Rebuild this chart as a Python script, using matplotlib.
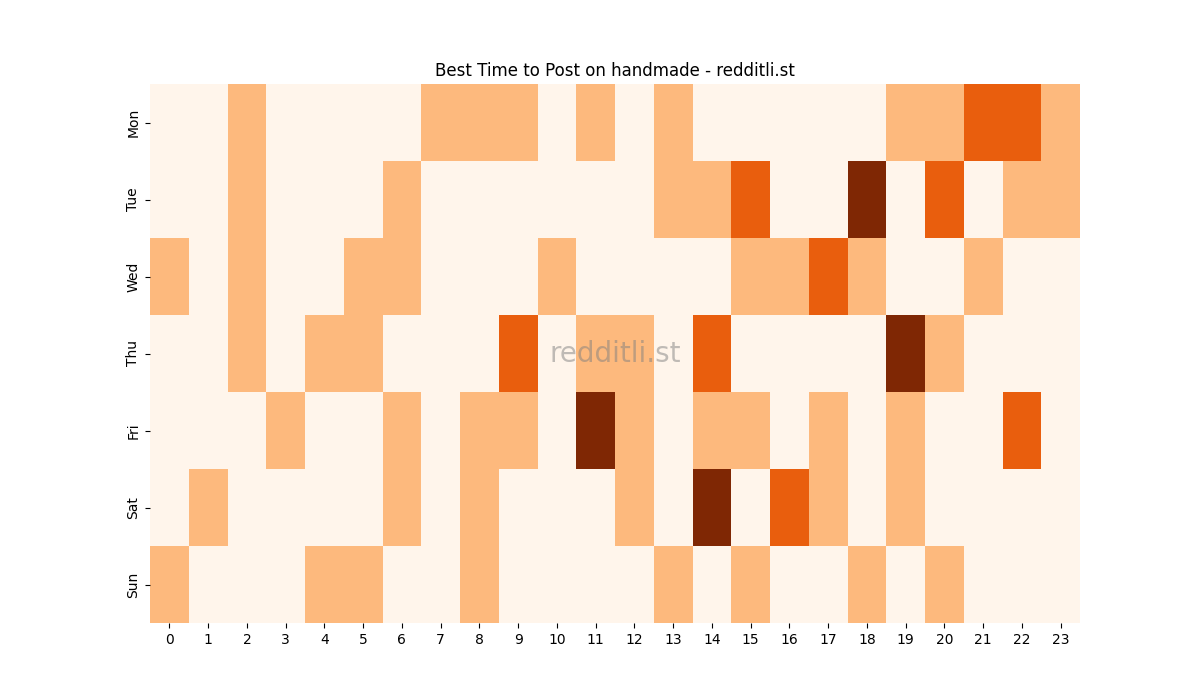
import numpy as np
import matplotlib
matplotlib.use('Agg')
import matplotlib.pyplot as plt

days = ['Mon', 'Tue', 'Wed', 'Thu', 'Fri', 'Sat', 'Sun']
hours = list(range(24))

# activity level per hour (0-3)
mon = [0, 0, 1, 0, 0, 0, 0, 1, 1, 1, 0, 1, 0, 1, 0, 0, 0, 0, 0, 1, 1, 2, 2, 1]
tue = [0, 0, 1, 0, 0, 0, 1, 0, 0, 0, 0, 0, 0, 1, 1, 2, 0, 0, 3, 0, 2, 0, 1, 1]
wed = [1, 0, 1, 0, 0, 1, 1, 0, 0, 0, 1, 0, 0, 0, 0, 1, 1, 2, 1, 0, 0, 1, 0, 0]
thu = [0, 0, 1, 0, 1, 1, 0, 0, 0, 2, 0, 1, 1, 0, 2, 0, 0, 0, 0, 3, 1, 0, 0, 0]
fri = [0, 0, 0, 1, 0, 0, 1, 0, 1, 1, 0, 3, 1, 0, 1, 1, 0, 1, 0, 1, 0, 0, 2, 0]
sat = [0, 1, 0, 0, 0, 0, 1, 0, 1, 0, 0, 0, 1, 0, 3, 0, 2, 1, 0, 1, 0, 0, 0, 0]
sun = [1, 0, 0, 0, 1, 1, 0, 0, 1, 0, 0, 0, 0, 1, 0, 1, 0, 0, 1, 0, 1, 0, 0, 0]

grid = np.array([mon, tue, wed, thu, fri, sat, sun])

fig, ax = plt.subplots(figsize=(12, 7), dpi=100)
ax.pcolormesh(grid, cmap='Oranges', vmin=0, vmax=3)
ax.set_xlim(0, len(hours))
ax.set_ylim(len(days), 0)
ax.set_xticks(np.arange(len(hours)) + 0.5)
ax.set_xticklabels(hours)
ax.set_yticks(np.arange(len(days)) + 0.5)
ax.set_yticklabels(days, rotation=90, va='center')
for s in ax.spines.values():
    s.set_visible(False)
ax.set_title('Best Time to Post on handmade - redditli.st')
ax.text(0.5, 0.5, 'redditli.st', transform=ax.transAxes, ha='center', va='center',
        fontsize=20, color='gray', alpha=0.5)

plt.savefig('out.png')
